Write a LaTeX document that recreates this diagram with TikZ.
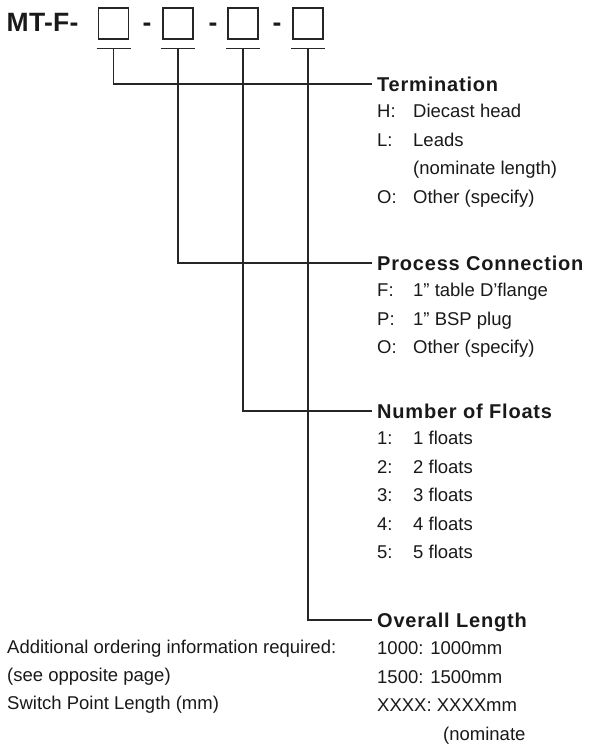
\documentclass[tikz,border=0pt]{standalone}
\usepackage{fontspec}
\setmainfont{Liberation Sans}
\newfontfamily\headfont{Liberation Sans}[LetterSpace=4]
\newfontfamily\codefont{Liberation Sans}[LetterSpace=1]
\usetikzlibrary{calc}
\tikzset{
	slot/.style={draw=black!85, line width=1.5pt, minimum width=30pt, minimum height=31pt, inner sep=0pt},
	lead/.style={draw=black!85, line width=1.2pt},
	code/.style={anchor=base, inner sep=0pt, text=black!90, font=\codefont\bfseries\fontsize{26.5}{29}\selectfont},
	head/.style={anchor=west, inner sep=0pt, text height=14.3pt, text depth=0pt, text=black!90, font=\headfont\bfseries\fontsize{20}{22}\selectfont},
	entry/.style={anchor=west, inner sep=0pt, text height=13.3pt, text depth=0pt, text=black!90, font=\fontsize{18.5}{20}\selectfont},
}

\begin{document}
\begin{tikzpicture}[x=1pt, y=-1pt]
		\useasboundingbox (0, 0) rectangle (596, 749);
		%%%%% START %%%%%
		
		\node[code, anchor=base west] (model) at (6.5, 31.7) {MT-F-};
		
		\node[slot] (s1) at (113.5, 23.5) {};
		\node[slot] (s2) at (178, 23.5) {};
		\node[slot] (s3) at (243, 23.5) {};
		\node[slot] (s4) at (308, 23.5) {};
		
		\node[code] (d1) at (147, 31.7) {-};
		\node[code] (d2) at (213, 31.7) {-};
		\node[code] (d3) at (277, 31.7) {-};
		
		\coordinate (u1) at ($(s1.south)+(0, 9)$);
		\coordinate (u2) at ($(s2.south)+(0, 9)$);
		\coordinate (u3) at ($(s3.south)+(0, 9)$);
		\coordinate (u4) at ($(s4.south)+(0, 9)$);
		
		\draw[lead] ($(u1)+(-17, 0)$) -- ($(u1)+(17, 0)$);
		\draw[lead] ($(u2)+(-17, 0)$) -- ($(u2)+(17, 0)$);
		\draw[lead] ($(u3)+(-17, 0)$) -- ($(u3)+(17, 0)$);
		\draw[lead] ($(u4)+(-17, 0)$) -- ($(u4)+(17, 0)$);
		
		\node[head] (term) at (377, 84) {Termination};
		\node[entry] (termH) at (377, 111) {H:};
		\node[entry] at (413, 111) {Diecast head};
		\node[entry] (termL) at (377, 139.5) {L:};
		\node[entry] at (413, 139.5) {Leads};
		\node[entry] at (413, 168) {(nominate length)};
		\node[entry] (termO) at (377, 196.5) {O:};
		\node[entry] at (413, 196.5) {Other (specify)};
		
		\node[head] (proc) at (377, 263) {Process Connection};
		\node[entry] (procF) at (377, 290) {F:};
		\node[entry] at (413, 290) {1” table D’flange};
		\node[entry] (procP) at (377, 318.5) {P:};
		\node[entry] at (413, 318.5) {1” BSP plug};
		\node[entry] (procO) at (377, 347) {O:};
		\node[entry] at (413, 347) {Other (specify)};
		
		\node[head] (nflt) at (377, 411) {Number of Floats};
		\node[entry] (nflt1) at (377, 438) {1:};
		\node[entry] at (413, 438) {1 floats};
		\node[entry] (nflt2) at (377, 466.5) {2:};
		\node[entry] at (413, 466.5) {2 floats};
		\node[entry] (nflt3) at (377, 495) {3:};
		\node[entry] at (413, 495) {3 floats};
		\node[entry] (nflt4) at (377, 523.5) {4:};
		\node[entry] at (413, 523.5) {4 floats};
		\node[entry] (nflt5) at (377, 552) {5:};
		\node[entry] at (413, 552) {5 floats};
		
		\node[head] (olen) at (377, 620) {Overall Length};
		\node[entry] (olen1) at (377, 648) {1000: 1000mm};
		\node[entry] (olen2) at (377, 676.5) {1500: 1500mm};
		\node[entry] (olenX) at (377, 705) {XXXX: XXXXmm};
		\node[entry] at (443, 733.5) {(nominate};
		
		\node[entry] (info) at (7, 647) {Additional ordering information required:};
		\node[entry] at (7, 675) {(see opposite page)};
		\node[entry] at (7, 703) {Switch Point Length (mm)};
		
		\draw[lead, shorten >=5pt] (u1) |- (term.west);
		\draw[lead, shorten >=5pt] (u2) |- (proc.west);
		\draw[lead, shorten >=5pt] (u3) |- (nflt.west);
		\draw[lead, shorten >=5pt] (u4) |- (olen.west);
		
		%%%%% END %%%%%
\end{tikzpicture}
\end{document}
